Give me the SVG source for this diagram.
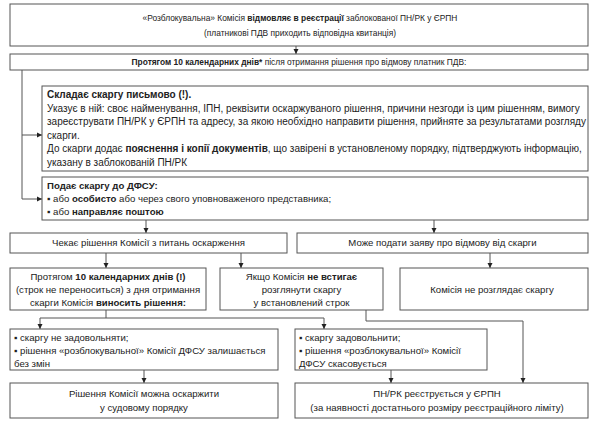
<svg xmlns="http://www.w3.org/2000/svg" width="600" height="422" viewBox="0 0 600 422">
<defs>
<marker id="ah" markerWidth="6" markerHeight="6" refX="5" refY="3" orient="auto" markerUnits="userSpaceOnUse">
<path d="M0,0.5 L5,3 L0,5.5 Z" fill="#222"/>
</marker>
<style>
.box{fill:#fff;stroke:#555;stroke-width:1}
.t{font-family:"Liberation Sans",Arial,sans-serif;font-size:9.6px;fill:#222}
.s{font-size:8.4px}
.l{font-size:10px}
.c{text-anchor:middle}
.b{font-weight:bold}
.ln{fill:none;stroke:#555;stroke-width:1}
.ar{fill:none;stroke:#555;stroke-width:1;marker-end:url(#ah)}
</style>
</defs>
<rect width="600" height="422" fill="#fff"/>
<g id="connectors">
<path class="ar" d="M296,46 V54"/>
<path class="ln" d="M22,70 V199"/>
<path class="ar" d="M22,135 H42"/>
<path class="ar" d="M22,199 H42"/>
<path class="ar" d="M146,220 V233"/>
<path class="ar" d="M434,220 V233"/>
<path class="ar" d="M106,253 V268"/>
<path class="ar" d="M241,253 V268"/>
<path class="ar" d="M490,253 V268"/>
<path class="ln" d="M106,310 V318 M40,318 H324"/>
<path class="ar" d="M40,318 V329"/>
<path class="ar" d="M324,318 V329"/>
<path class="ar" d="M366,310 V321 H523 V383"/>
<path class="ar" d="M144,370 V383"/>
<path class="ar" d="M391,370 V383"/>
</g>
<g id="n1"><rect class="box" x="10" y="4" width="578" height="42"/>
<text class="t s c" x="300" y="21">«Розблокувальна» Комісія <tspan class="b">відмовляє в реєстрації</tspan> заблокованої ПН/РК у ЄРПН</text>
<text class="t s c" x="300" y="36">(платникові ПДВ приходить відповідна квитанція)</text></g>
<g id="n2"><rect class="box" x="10" y="54" width="578" height="16"/>
<text class="t s c" x="299" y="65"><tspan class="b">Протягом 10 календарних днів*</tspan> після отримання рішення про відмову платник ПДВ:</text></g>
<g id="n3"><rect class="box" x="42" y="86" width="546" height="85"/>
<text class="t l" x="47" y="98"><tspan class="b">Складає скаргу письмово (!).</tspan></text>
<text class="t l" x="47" y="111.5">Указує в ній: своє найменування, ІПН, реквізити оскаржуваного рішення, причини незгоди із цим рішенням, вимогу</text>
<text class="t l" x="47" y="125">зареєструвати ПН/РК у ЄРПН та адресу, за якою необхідно направити рішення, прийняте за результатами розгляду</text>
<text class="t l" x="47" y="138.5">скарги.</text>
<text class="t l" x="47" y="152">До скарги додає <tspan class="b">пояснення і копії документів</tspan>, що завірені в установленому порядку, підтверджують інформацію,</text>
<text class="t l" x="47" y="165.5">указану в заблокованій ПН/РК</text></g>
<g id="n4"><rect class="box" x="42" y="177" width="546" height="43"/>
<text class="t" x="47" y="189"><tspan class="b">Подає скаргу до ДФСУ:</tspan></text>
<text class="t" x="47" y="202">▪ або <tspan class="b">особисто</tspan> або через свого уповноваженого представника;</text>
<text class="t" x="47" y="215">▪ або <tspan class="b">направляє поштою</tspan></text></g>
<g id="n5"><rect class="box" x="10" y="233" width="277" height="20"/>
<text class="t c" x="148.5" y="246">Чекає рішення Комісії з питань оскарження</text></g>
<g id="n6"><rect class="box" x="297" y="233" width="291" height="20"/>
<text class="t c" x="442.5" y="246">Може подати заяву про відмову від скарги</text></g>
<g id="n7"><rect class="box" x="10" y="268" width="196" height="42"/>
<text class="t c" x="108" y="280">Протягом <tspan class="b">10 календарних днів (!)</tspan></text>
<text class="t c" x="108" y="293">(строк не переноситься) з дня отримання</text>
<text class="t c" x="108" y="306">скарги Комісія <tspan class="b">виносить рішення:</tspan></text></g>
<g id="n8"><rect class="box" x="220" y="268" width="163" height="42"/>
<text class="t c" x="301.5" y="280">Якщо Комісія <tspan class="b">не встигає</tspan></text>
<text class="t c" x="301.5" y="293">розглянути скаргу</text>
<text class="t c" x="301.5" y="306">у встановлений строк</text></g>
<g id="n9"><rect class="box" x="400" y="268" width="188" height="42"/>
<text class="t c" x="492" y="292.5">Комісія не розглядає скаргу</text></g>
<g id="n10"><rect class="box" x="10" y="329" width="268" height="41"/>
<text class="t" x="14" y="341">▪ скаргу не задовольняти;</text>
<text class="t" x="14" y="354">▪ рішення «розблокувальної» Комісії ДФСУ залишається</text>
<text class="t" x="14" y="367">без змін</text></g>
<g id="n11"><rect class="box" x="295" y="329" width="192" height="41"/>
<text class="t" x="299" y="341">▪ скаргу задовольнити;</text>
<text class="t" x="299" y="354">▪ рішення «розблокувальної» Комісії</text>
<text class="t" x="299" y="367">ДФСУ скасовується</text></g>
<g id="n12"><rect class="box" x="295" y="383" width="293" height="35"/>
<text class="t c" x="437" y="397">ПН/РК реєструється у ЄРПН</text>
<text class="t c" x="437" y="411">(за наявності достатнього розміру реєстраційного ліміту)</text></g>
<g id="n13"><rect class="box" x="10" y="383" width="268" height="35"/>
<text class="t c" x="144" y="397">Рішення Комісії можна оскаржити</text>
<text class="t c" x="144" y="411">у судовому порядку</text></g>
</svg>
